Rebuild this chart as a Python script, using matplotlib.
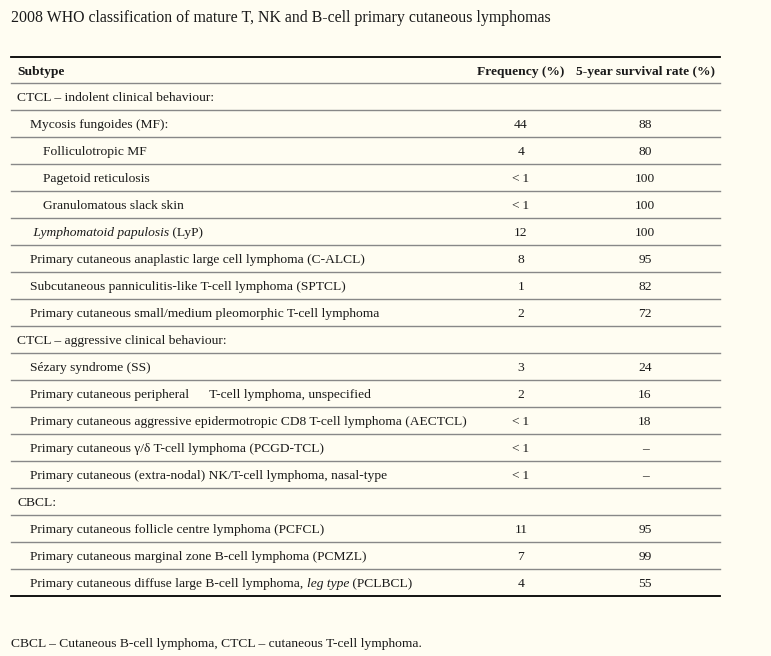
import matplotlib
matplotlib.use("Agg")
import matplotlib.pyplot as plt

# table contents
title = "2008 WHO classification of mature T, NK and B-cell primary cutaneous lymphomas"
headers = ["Subtype", "Frequency (%)", "5-year survival rate (%)"]
# each subtype is a list of (text, italic) pieces
subtypes = [
    [("CTCL \u2013 indolent clinical behaviour:", False)],
    [("Mycosis fungoides (MF):", False)],
    [("Folliculotropic MF", False)],
    [("Pagetoid reticulosis", False)],
    [("Granulomatous slack skin", False)],
    [(" Lymphomatoid papulosis", True), (" (LyP)", False)],
    [("Primary cutaneous anaplastic large cell lymphoma (C-ALCL)", False)],
    [("Subcutaneous panniculitis-like T-cell lymphoma (SPTCL)", False)],
    [("Primary cutaneous small/medium pleomorphic T-cell lymphoma", False)],
    [("CTCL \u2013 aggressive clinical behaviour:", False)],
    [("S\u00e9zary syndrome (SS)", False)],
    [("Primary cutaneous peripheral      T-cell lymphoma, unspecified", False)],
    [("Primary cutaneous aggressive epidermotropic CD8 T-cell lymphoma (AECTCL)", False)],
    [("Primary cutaneous \u03b3/\u03b4 T-cell lymphoma (PCGD-TCL)", False)],
    [("Primary cutaneous (extra-nodal) NK/T-cell lymphoma, nasal-type", False)],
    [("CBCL:", False)],
    [("Primary cutaneous follicle centre lymphoma (PCFCL)", False)],
    [("Primary cutaneous marginal zone B-cell lymphoma (PCMZL)", False)],
    [("Primary cutaneous diffuse large B-cell lymphoma, ", False), ("leg type", True), (" (PCLBCL)", False)],
]
levels = [0, 1, 2, 2, 2, 1, 1, 1, 1, 0, 1, 1, 1, 1, 1, 0, 1, 1, 1]
frequency = ["", "44", "4", "<\u20091", "<\u20091", "12", "8", "1", "2", "",
             "3", "2", "<\u20091", "<\u20091", "<\u20091", "", "11", "7", "4"]
survival = ["", "88", "80", "100", "100", "100", "95", "82", "72", "",
            "24", "16", "18", "\u2013", "\u2013", "", "95", "99", "55"]
footnote = "CBCL \u2013 Cutaneous B-cell lymphoma, CTCL \u2013 cutaneous T-cell lymphoma."

bg = "#fffdf2"
ink = "#1a1a1a"
font = ["Liberation Serif", "DejaVu Serif"]
fs = 9.7

fig = plt.figure(figsize=(7.71, 6.56), dpi=100, facecolor=bg)
ax = fig.add_axes([0, 0, 1, 1])
ax.set_xlim(0, 771)
ax.set_ylim(656, 0)
ax.axis("off")
ax.set_facecolor(bg)

ax.text(11, 22, title, fontsize=11.45, family=font, color=ink, va="baseline")

x0, x1 = 11, 720
top = 57
header_line = 83
row_h = 27
col_freq = 521
col_surv = 645
indent = [17, 30, 43]
base = 4.5  # baseline offset below row centre

ax.plot([x0, x1], [top, top], color="#000000", lw=1.3)
hy = (top + header_line) / 2 + base
ax.text(indent[0], hy, headers[0], fontsize=fs, family=font, weight="bold", color=ink, va="baseline")
ax.text(col_freq, hy, headers[1], fontsize=fs, family=font, weight="bold", color=ink, va="baseline", ha="center")
ax.text(col_surv, hy, headers[2], fontsize=fs, family=font, weight="bold", color=ink, va="baseline", ha="center")
ax.plot([x0, x1], [header_line, header_line], color="#888888", lw=1.0)

fig.canvas.draw()
renderer = fig.canvas.get_renderer()
inv = ax.transData.inverted()

for i, pieces in enumerate(subtypes):
    yb = header_line + row_h * i + row_h / 2 + base
    x = indent[levels[i]]
    for txt, it in pieces:
        t = ax.text(x, yb, txt, fontsize=fs, family=font, color=ink, va="baseline",
                    style="italic" if it else "normal")
        bb = t.get_window_extent(renderer=renderer)
        x = inv.transform((bb.x1, bb.y0))[0]
    ax.text(col_freq, yb, frequency[i], fontsize=fs, family=font, color=ink, va="baseline", ha="center")
    ax.text(col_surv, yb, survival[i], fontsize=fs, family=font, color=ink, va="baseline", ha="center")
    yl = header_line + row_h * (i + 1)
    if i < len(subtypes) - 1:
        ax.plot([x0, x1], [yl, yl], color="#888888", lw=1.0)
    else:
        ax.plot([x0, x1], [yl, yl], color="#000000", lw=1.3)

ax.text(11, 647.5, footnote, fontsize=fs, family=font, color=ink, va="baseline")

fig.savefig("out.png", dpi=100, facecolor=bg)
